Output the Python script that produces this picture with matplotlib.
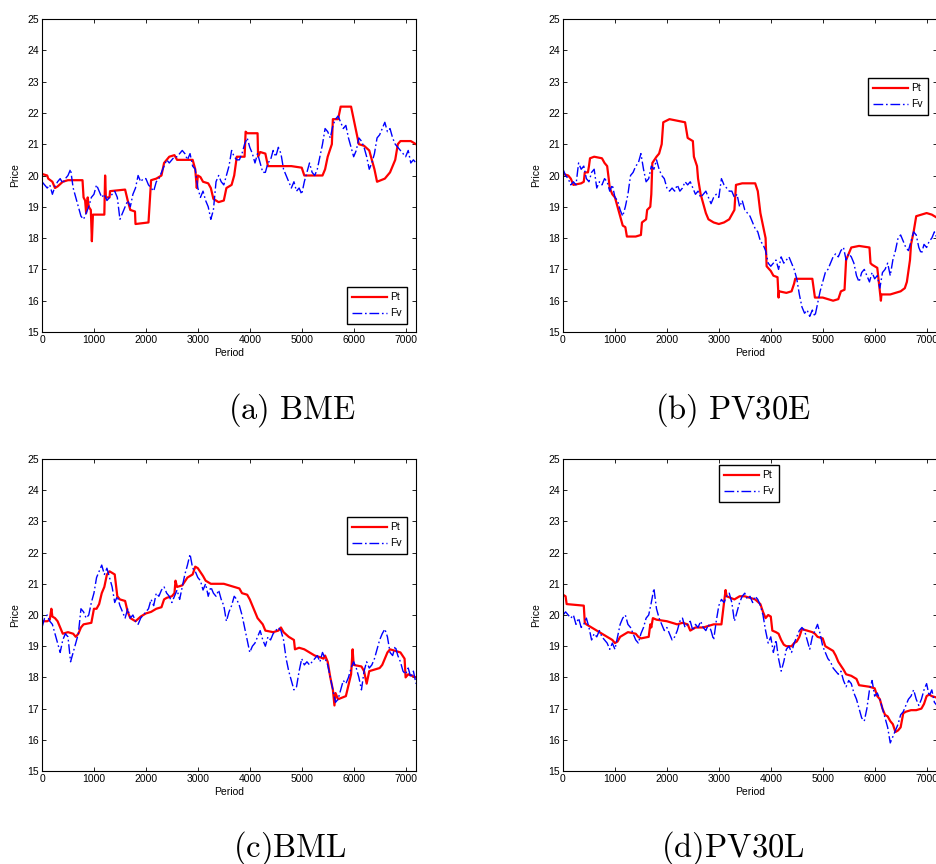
import matplotlib
matplotlib.use("Agg")
import matplotlib.pyplot as plt
import numpy as np

plt.rcParams['font.family'] = ['Liberation Sans', 'DejaVu Sans']
plt.rcParams['mathtext.fontset'] = 'cm'

# Fv every 50 periods, 0..7200
FV_STEP = 50

# (a) BME
bme_pt = [(0, 20.05), (100, 20.0), (120, 19.9), (200, 19.8), (250, 19.6), (300, 19.65),
          (400, 19.8), (500, 19.85), (780, 19.85), (800, 19.3), (830, 19.2), (850, 18.8),
          (880, 19.3), (900, 19.0), (940, 18.9), (960, 17.9), (980, 18.75), (1200, 18.75),
          (1215, 20.0), (1230, 19.3), (1300, 19.3), (1310, 19.5), (1600, 19.55), (1650, 19.2),
          (1700, 18.9), (1790, 18.85), (1800, 18.45), (2050, 18.5), (2080, 19.3), (2100, 19.85),
          (2200, 19.9), (2300, 20.0), (2350, 20.4), (2450, 20.6), (2550, 20.65), (2600, 20.5),
          (2900, 20.5), (2950, 20.2), (2980, 19.6), (3000, 20.0), (3050, 19.95), (3100, 19.8),
          (3200, 19.75), (3250, 19.6), (3300, 19.25), (3400, 19.15), (3500, 19.2), (3550, 19.6),
          (3650, 19.7), (3700, 20.0), (3750, 20.6), (3900, 20.6), (3920, 21.4), (3950, 21.35),
          (4150, 21.35), (4160, 20.6), (4200, 20.75), (4300, 20.7), (4350, 20.3), (4800, 20.3),
          (5000, 20.25), (5050, 20.0), (5400, 20.0), (5450, 20.2), (5500, 20.6), (5580, 21.0),
          (5600, 21.8), (5700, 21.8), (5750, 22.2), (5950, 22.2), (6000, 21.8), (6050, 21.4),
          (6100, 21.0), (6200, 20.95), (6300, 20.8), (6350, 20.5), (6400, 20.2), (6450, 19.8),
          (6600, 19.9), (6700, 20.1), (6800, 20.5), (6850, 21.0), (6900, 21.1), (7100, 21.1),
          (7200, 21.0)]
bme_fv = [19.8, 19.7, 19.6, 19.7, 19.4, 19.65, 19.8, 19.9, 19.75, 19.9,
          20.0, 20.2, 19.6, 19.3, 19.0, 18.7, 18.6, 18.8, 19.0, 19.3,
          19.4, 19.7, 19.5, 19.3, 19.4, 19.2, 19.3, 19.4, 19.5, 19.3,
          18.6, 18.8, 19.0, 19.2, 19.0, 19.4, 19.6, 20.0, 19.8, 19.9,
          19.9, 19.7, 19.6, 19.5, 19.8, 19.9, 20.1, 20.3, 20.5, 20.4,
          20.5, 20.6, 20.6, 20.7, 20.8, 20.7, 20.5, 20.7, 20.3, 20.2,
          19.6, 19.3, 19.5, 19.2, 19.0, 18.6, 18.9, 19.8, 20.0, 19.8,
          19.7, 20.0, 20.3, 20.8, 20.6, 20.5, 20.5, 20.7, 21.0, 21.2,
          20.9, 20.7, 20.4, 20.7, 20.4, 20.1, 20.1, 20.4, 20.5, 20.8,
          20.6, 20.9, 20.7, 20.2, 20.0, 19.8, 19.6, 19.8, 19.5, 19.6,
          19.4, 19.8, 20.1, 20.4, 20.1, 20.0, 20.2, 20.6, 21.0, 21.5,
          21.4, 21.2, 21.6, 21.8, 21.9, 21.7, 21.5, 21.6, 21.2, 20.9,
          20.6, 20.8, 21.2, 21.1, 20.9, 20.6, 20.2, 20.4, 20.7, 21.2,
          21.3, 21.5, 21.7, 21.4, 21.5, 21.2, 21.0, 20.9, 20.8, 20.7,
          20.6, 20.8, 20.4, 20.5, 20.4]

# (b) PV30E
pv30e_pt = [(0, 20.05), (100, 20.0), (150, 19.9), (200, 19.7), (350, 19.75), (400, 19.8),
            (420, 20.1), (480, 20.1), (500, 20.3), (520, 20.55), (600, 20.6), (750, 20.55),
            (800, 20.4), (850, 20.3), (880, 19.9), (900, 19.6), (950, 19.4), (1000, 19.3),
            (1050, 19.0), (1100, 18.7), (1150, 18.4), (1200, 18.35), (1230, 18.05), (1400, 18.05),
            (1500, 18.1), (1520, 18.5), (1600, 18.6), (1620, 18.9), (1680, 19.0), (1700, 19.4),
            (1720, 20.4), (1760, 20.5), (1800, 20.6), (1850, 20.7), (1900, 21.0), (1930, 21.7),
            (2050, 21.8), (2350, 21.7), (2400, 21.2), (2500, 21.1), (2520, 20.6), (2580, 20.3),
            (2600, 19.9), (2650, 19.4), (2700, 19.1), (2750, 18.8), (2800, 18.6), (2900, 18.5),
            (3000, 18.45), (3100, 18.5), (3200, 18.6), (3250, 18.75), (3300, 18.9), (3330, 19.7),
            (3450, 19.75), (3700, 19.75), (3750, 19.5), (3800, 18.8), (3850, 18.4), (3900, 18.0),
            (3920, 17.1), (4000, 16.95), (4050, 16.8), (4130, 16.75), (4150, 16.1), (4160, 16.3),
            (4300, 16.25), (4400, 16.3), (4450, 16.55), (4470, 16.7), (4800, 16.7), (4850, 16.1),
            (5000, 16.1), (5100, 16.05), (5200, 16.0), (5300, 16.05), (5350, 16.3), (5420, 16.35),
            (5450, 17.3), (5500, 17.5), (5550, 17.7), (5700, 17.75), (5900, 17.7), (5920, 17.2),
            (5950, 17.15), (6050, 17.05), (6100, 16.3), (6120, 16.0), (6130, 16.2), (6300, 16.2),
            (6400, 16.25), (6500, 16.3), (6580, 16.4), (6620, 16.6), (6680, 17.3), (6700, 17.8),
            (6750, 18.2), (6800, 18.7), (6900, 18.75), (7000, 18.8), (7100, 18.75), (7200, 18.65)]
pv30e_fv = [20.2, 20.0, 19.9, 19.7, 19.8, 19.7, 20.4, 20.2, 20.3, 19.9,
            19.8, 20.1, 20.2, 19.6, 19.8, 19.7, 19.9, 19.8, 19.5, 19.7,
            19.3, 19.2, 18.9, 18.7, 19.0, 19.4, 20.0, 20.1, 20.3, 20.4,
            20.7, 20.2, 19.8, 19.9, 20.3, 20.2, 20.5, 20.2, 20.0, 19.9,
            19.6, 19.5, 19.6, 19.5, 19.7, 19.5, 19.6, 19.8, 19.7, 19.8,
            19.6, 19.4, 19.5, 19.3, 19.4, 19.5, 19.3, 19.1, 19.3, 19.4,
            19.3, 19.9, 19.7, 19.6, 19.5, 19.5, 19.3, 19.4, 19.0, 19.2,
            18.9, 18.8, 18.7, 18.5, 18.3, 18.2, 17.9, 17.8, 17.6, 17.2,
            17.1, 17.2, 17.3, 17.0, 17.4, 17.2, 17.3, 17.4, 17.2, 17.0,
            16.7, 16.2, 15.8, 15.6, 15.7, 15.5, 15.7, 15.5, 15.9, 16.3,
            16.6, 16.9, 17.0, 17.2, 17.4, 17.5, 17.4, 17.6, 17.7, 17.3,
            17.5, 17.4, 17.2, 16.8, 16.6, 16.9, 17.0, 16.8, 16.6, 16.9,
            16.7, 16.8, 16.4, 16.9, 17.0, 17.2, 16.8, 17.3, 17.6, 18.0,
            18.1, 17.9, 17.7, 17.6, 17.9, 18.2, 18.1, 17.7, 17.5, 17.8,
            17.7, 17.9, 18.0, 18.2, 18.0]

# (c) BML
bml_pt = [(0, 19.8), (100, 19.8), (150, 19.85), (180, 20.2), (200, 19.95), (250, 19.9),
          (300, 19.8), (350, 19.6), (400, 19.4), (500, 19.45), (600, 19.4), (650, 19.3),
          (700, 19.4), (750, 19.6), (800, 19.7), (950, 19.75), (1000, 20.2), (1050, 20.2),
          (1100, 20.35), (1150, 20.7), (1200, 20.9), (1250, 21.3), (1300, 21.4), (1400, 21.3),
          (1450, 20.6), (1500, 20.5), (1600, 20.45), (1650, 20.1), (1700, 19.9), (1800, 19.8),
          (1900, 19.95), (2000, 20.05), (2100, 20.1), (2200, 20.2), (2300, 20.25), (2350, 20.5),
          (2400, 20.55), (2500, 20.6), (2550, 20.7), (2570, 21.1), (2600, 20.9), (2700, 20.95),
          (2800, 21.2), (2900, 21.3), (2950, 21.55), (3000, 21.5), (3100, 21.25), (3150, 21.1),
          (3250, 21.0), (3500, 21.0), (3600, 20.95), (3800, 20.85), (3850, 20.7), (3950, 20.65),
          (4000, 20.5), (4050, 20.3), (4100, 20.1), (4150, 19.9), (4200, 19.8), (4250, 19.7),
          (4300, 19.5), (4450, 19.45), (4550, 19.5), (4600, 19.6), (4650, 19.45), (4750, 19.3),
          (4850, 19.2), (4870, 18.9), (4950, 18.95), (5050, 18.9), (5150, 18.8), (5250, 18.7),
          (5350, 18.65), (5420, 18.6), (5450, 18.7), (5500, 18.5), (5550, 18.0), (5600, 17.6),
          (5630, 17.1), (5650, 17.5), (5700, 17.3), (5850, 17.4), (5900, 17.75), (5950, 18.1),
          (5980, 18.9), (6000, 18.4), (6150, 18.35), (6200, 18.2), (6250, 17.8), (6300, 18.2),
          (6400, 18.25), (6500, 18.3), (6550, 18.4), (6600, 18.6), (6650, 18.8), (6700, 18.9),
          (6800, 18.85), (6900, 18.8), (6980, 18.6), (7000, 18.0), (7050, 18.1), (7200, 18.0)]
bml_fv = [19.6, 19.9, 20.0, 19.8, 19.7, 19.4, 19.1, 18.8, 19.2, 19.4,
          19.3, 18.5, 18.8, 19.1, 19.4, 20.2, 20.1, 19.9, 20.0, 20.4,
          20.7, 21.2, 21.4, 21.6, 21.3, 21.5, 21.2, 20.9, 20.4, 20.6,
          20.3, 20.1, 19.9, 20.2, 19.9, 20.0, 19.8, 19.7, 19.9, 20.0,
          20.1, 20.2, 20.5, 20.3, 20.7, 20.6, 20.8, 20.9, 20.7, 20.6,
          20.4, 20.6, 20.8, 20.5, 20.9, 21.3, 21.6, 21.95, 21.5, 21.4,
          21.2, 21.1, 20.8, 21.0, 20.6, 20.9, 20.7, 20.6, 20.8, 20.5,
          20.3, 19.8, 20.1, 20.3, 20.6, 20.5, 20.3, 20.0, 19.6, 19.2,
          18.8, 19.0, 19.1, 19.3, 19.5, 19.2, 19.0, 19.3, 19.2, 19.4,
          19.5, 19.6, 19.5, 19.2, 18.6, 18.2, 17.9, 17.6, 17.7, 18.2,
          18.6, 18.4, 18.5, 18.4, 18.5, 18.6, 18.7, 18.5, 18.8, 18.6,
          18.4, 18.0, 17.6, 17.2, 17.3, 17.6, 17.9, 17.8, 18.0, 18.3,
          18.5, 18.3, 18.0, 17.6, 18.2, 18.5, 18.3, 18.4, 18.6, 18.9,
          19.2, 19.4, 19.55, 19.3, 18.8, 18.7, 19.0, 18.7, 18.5, 18.2,
          18.1, 18.3, 18.0, 18.2, 17.8]

# (d) PV30L
pv30l_pt = [(0, 20.65), (50, 20.6), (70, 20.35), (400, 20.3), (420, 19.75), (450, 19.7),
            (550, 19.6), (650, 19.5), (750, 19.4), (850, 19.3), (950, 19.2), (1000, 19.1),
            (1050, 19.15), (1100, 19.3), (1200, 19.4), (1250, 19.45), (1400, 19.4), (1450, 19.3),
            (1500, 19.25), (1650, 19.3), (1680, 19.7), (1700, 19.6), (1730, 19.9), (1800, 19.85),
            (2000, 19.8), (2100, 19.75), (2200, 19.7), (2300, 19.75), (2400, 19.7), (2450, 19.5),
            (2550, 19.6), (2700, 19.6), (2800, 19.65), (2900, 19.7), (3050, 19.7), (3100, 20.4),
            (3130, 20.8), (3150, 20.6), (3300, 20.5), (3400, 20.6), (3500, 20.6), (3600, 20.55),
            (3700, 20.5), (3800, 20.35), (3850, 20.1), (3900, 19.9), (3950, 20.0), (4000, 19.95),
            (4030, 19.5), (4100, 19.45), (4150, 19.4), (4200, 19.2), (4250, 19.05), (4300, 19.0),
            (4400, 19.0), (4450, 19.1), (4500, 19.15), (4550, 19.3), (4600, 19.55), (4700, 19.5),
            (4800, 19.45), (4850, 19.4), (4900, 19.3), (5000, 19.25), (5050, 19.0), (5100, 18.95),
            (5200, 18.85), (5250, 18.7), (5300, 18.5), (5400, 18.25), (5450, 18.1), (5550, 18.05),
            (5650, 17.95), (5700, 17.75), (5900, 17.7), (6000, 17.65), (6050, 17.4), (6100, 17.3),
            (6150, 17.0), (6200, 16.8), (6250, 16.75), (6300, 16.6), (6350, 16.5), (6400, 16.25),
            (6450, 16.3), (6500, 16.4), (6550, 16.85), (6600, 16.9), (6700, 16.95), (6800, 16.95),
            (6900, 17.0), (6950, 17.15), (7000, 17.4), (7050, 17.45), (7100, 17.4), (7200, 17.35)]
pv30l_fv = [20.0, 20.1, 20.0, 19.9, 20.0, 19.7, 19.9, 19.6, 19.7, 19.9,
            19.6, 19.2, 19.4, 19.3, 19.5, 19.3, 19.2, 19.1, 18.9, 19.1,
            18.9, 19.3, 19.7, 19.9, 20.0, 19.7, 19.6, 19.4, 19.2, 19.1,
            19.4, 19.6, 19.9, 20.0, 20.4, 20.85, 20.2, 19.9, 19.7, 19.5,
            19.6, 19.4, 19.2, 19.3, 19.5, 19.8, 19.9, 19.6, 19.7, 19.8,
            19.5, 19.7, 19.6, 19.8, 19.6, 19.5, 19.7, 19.5, 19.2, 19.8,
            20.3, 20.5, 20.4, 20.6, 20.7, 20.4, 19.8, 20.1, 20.4, 20.6,
            20.7, 20.5, 20.6, 20.4, 20.6, 20.5, 20.3, 20.0, 19.5, 19.1,
            19.3, 18.8, 19.2, 18.6, 18.2, 18.5, 18.9, 19.0, 18.8, 19.1,
            19.3, 19.5, 19.6, 19.5, 19.2, 18.9, 19.3, 19.5, 19.7, 19.4,
            19.0, 18.8, 18.6, 18.5, 18.3, 18.2, 18.1, 18.2, 17.9, 17.7,
            17.9, 17.8, 17.5, 17.3, 17.0, 16.7, 16.6, 17.0, 17.6, 17.9,
            17.4, 17.5, 17.3, 17.0, 16.7, 16.4, 15.9, 16.1, 16.3, 16.5,
            16.8, 16.9, 17.1, 17.3, 17.4, 17.6, 17.3, 17.1, 17.3, 17.6,
            17.8, 17.4, 17.6, 17.2, 17.1]

captions = [r'$\mathrm{(a)\ BME}$', r'$\mathrm{(b)\ PV30E}$',
            r'$\mathrm{(c)BML}$', r'$\mathrm{(d)PV30L}$']

W, H = 936, 864


def px_rect(x0, y0, x1, y1):
    # pixel box (top-left origin) -> figure fraction rect
    return [x0 / W, 1 - y1 / H, (x1 - x0) / W, (y1 - y0) / H]


def panel(fig, rect, pt, fv, legend_box):
    ax = fig.add_axes(rect)
    px, py = zip(*pt)
    fx = np.arange(len(fv)) * FV_STEP
    ax.plot(px, py, color='#ff0000', lw=1.6, label='Pt')
    ax.plot(fx, fv, color='#0000ff', lw=1.0, ls='-.', dashes=(7, 2, 1.2, 2), label='Fv')
    ax.set_xlim(0, 7200)
    ax.set_ylim(15, 25)
    ax.set_xticks(range(0, 7001, 1000))
    ax.set_yticks(range(15, 26))
    ax.tick_params(direction='in', top=True, right=True, labelsize=7.5, length=3,
                   width=0.6, pad=2)
    for s in ax.spines.values():
        s.set_linewidth(0.8)
    ax.set_xlabel('Period', fontsize=7.5, labelpad=2)
    ax.set_ylabel('Price', fontsize=7.5, labelpad=5)
    lx, ly = legend_box
    leg = ax.legend(loc='upper left', bbox_to_anchor=(lx / W, 1 - ly / H),
                    bbox_transform=fig.transFigure, fontsize=7.5, fancybox=False,
                    framealpha=1, edgecolor='black', handlelength=3.3,
                    borderpad=0.5, labelspacing=0.6, handletextpad=0.35,
                    borderaxespad=0)
    leg.get_frame().set_linewidth(1.0)
    return ax


fig = plt.figure(figsize=(W / 100, H / 100), dpi=100)

panel(fig, px_rect(42, 19, 416, 332), bme_pt, bme_fv, (347, 287))
panel(fig, px_rect(563, 19, 937, 332), pv30e_pt, pv30e_fv, (868, 78))
panel(fig, px_rect(42, 459, 416, 771), bml_pt, bml_fv, (347, 517))
panel(fig, px_rect(563, 459, 937, 771), pv30l_pt, pv30l_fv, (719, 465))

for (cx, cy), txt in zip([(292, 410), (733, 410), (290, 848), (733, 848)], captions):
    fig.text(cx / W, 1 - cy / H, txt, fontsize=23.5, ha='center', va='center')

fig.savefig('out.png', dpi=100)
